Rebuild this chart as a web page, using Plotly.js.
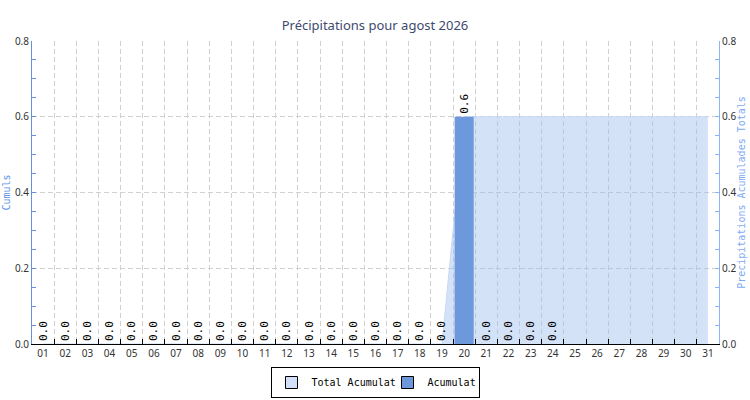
<!DOCTYPE html>
<html>
<head>
<meta charset="utf-8">
<script src="https://cdn.plot.ly/plotly-3.0.1.min.js"></script>
<style>html,body{margin:0;padding:0;background:#fff;}#chart{width:750px;height:400px;}</style>
</head>
<body>
<div id="chart"></div>
<script>
var days = ['01','02','03','04','05','06','07','08','09','10','11','12','13','14','15','16','17','18','19','20','21','22','23','24','25','26','27','28','29','30','31'];
var dailyAcumulat = [0,0,0,0,0,0,0,0,0,0,0,0,0,0,0,0,0,0,0,0.6,0,0,0,0,null,null,null,null,null,null,null];
var totalAcumulat = [0,0,0,0,0,0,0,0,0,0,0,0,0,0,0,0,0,0,0,0.6,0.6,0.6,0.6,0.6,0.6,0.6,0.6,0.6,0.6,0.6,0.6];
var seriesNames = ['Total Acumulat', 'Acumulat'];

var areaFill = 'rgba(160,190,240,0.45)';
var barColor = '#6e98dc';
var mono = 'DejaVu Sans Mono';

var traces = [
  {
    type: 'scatter', x: days, y: totalAcumulat, yaxis: 'y',
    mode: 'lines', fill: 'tozeroy', fillcolor: areaFill,
    line: {color: 'rgba(200,216,246,1)', width: 1},
    showlegend: false, hoverinfo: 'skip'
  },
  {
    type: 'bar', x: days, y: dailyAcumulat, yaxis: 'y2',
    marker: {color: barColor, line: {width: 0}},
    width: 0.86,
    texttemplate: '%{y:.1f}', textposition: 'outside', textangle: -90,
    constraintext: 'none', cliponaxis: false,
    textfont: {family: mono, size: 11, color: '#000'},
    showlegend: false, hoverinfo: 'skip'
  },
  {
    type: 'bar', x: [days[0]], y: [null], yaxis: 'y2', name: seriesNames[0],
    marker: {color: '#d2dff8', line: {color: '#000', width: 1}},
    legendwidth: 71
  },
  {
    type: 'bar', x: [days[0]], y: [null], yaxis: 'y2', name: seriesNames[1],
    marker: {color: barColor, line: {color: '#000', width: 1}},
    legendwidth: 46
  }
];

var layout = {
  width: 750, height: 400,
  margin: {l: 32, r: 31, t: 41, b: 56, pad: 0, autoexpand: false},
  paper_bgcolor: '#fff', plot_bgcolor: '#fff',
  barmode: 'overlay',
  title: {text: 'Précipitations pour agost 2026', x: 0.5, xanchor: 'center', y: 0.9375, yanchor: 'middle',
          font: {family: 'Noto Sans', size: 13, color: '#3e4a6e'}},
  xaxis: {
    type: 'category', categoryorder: 'array', categoryarray: days,
    range: [-0.5, 30.5], fixedrange: true,
    showline: true, linecolor: '#000', linewidth: 1,
    ticks: 'inside', ticklen: 5, tickcolor: '#000', tickson: 'boundaries',
    showgrid: true, gridcolor: '#d0d0d0', griddash: '5px,3px', gridwidth: 1,
    tickfont: {family: 'Noto Sans', size: 10, color: '#333'},
    zeroline: false, automargin: false
  },
  yaxis: {
    range: [0, 0.8], dtick: 0.2, tickformat: '.1f',
    showline: true, linecolor: '#6a8fd8', linewidth: 1,
    ticks: 'inside', ticklen: 4, tickcolor: '#6a8fd8',
    minor: {dtick: 0.05, ticks: 'inside', ticklen: 4, tickcolor: '#6a8fd8', showgrid: false},
    showgrid: true, gridcolor: '#d0d0d0', griddash: '5px,3px', gridwidth: 1,
    zeroline: false,
    tickfont: {family: 'Noto Sans', size: 10, color: '#333'},
    title: {text: 'Cumuls', font: {family: mono, size: 10, color: '#5f92e6'}, standoff: 2},
    automargin: false, fixedrange: true
  },
  yaxis2: {
    overlaying: 'y', side: 'right',
    range: [0, 0.8], dtick: 0.2, tickformat: '.1f',
    showline: true, linecolor: '#8ab4f8', linewidth: 1,
    ticks: 'inside', ticklen: 4, tickcolor: '#8ab4f8',
    minor: {dtick: 0.05, ticks: 'inside', ticklen: 4, tickcolor: '#8ab4f8', showgrid: false},
    showgrid: false, zeroline: false,
    tickfont: {family: 'Noto Sans', size: 10, color: '#333'},
    title: {text: 'Precipitations Acumulades Totals', font: {family: mono, size: 10, color: '#7eaaf4'}, standoff: 2},
    automargin: false, fixedrange: true
  },
  legend: {
    orientation: 'h', x: 0.5, xanchor: 'center', xref: 'container',
    y: 0.0825, yanchor: 'top', yref: 'container',
    bordercolor: '#000', borderwidth: 1, bgcolor: '#fff',
    font: {family: mono, size: 10, color: '#000'},
    itemwidth: 30, traceorder: 'normal', tracegroupgap: 0
  },
  showlegend: true
};

Plotly.newPlot('chart', traces, layout, {staticPlot: true, displayModeBar: false});
</script>
</body>
</html>
